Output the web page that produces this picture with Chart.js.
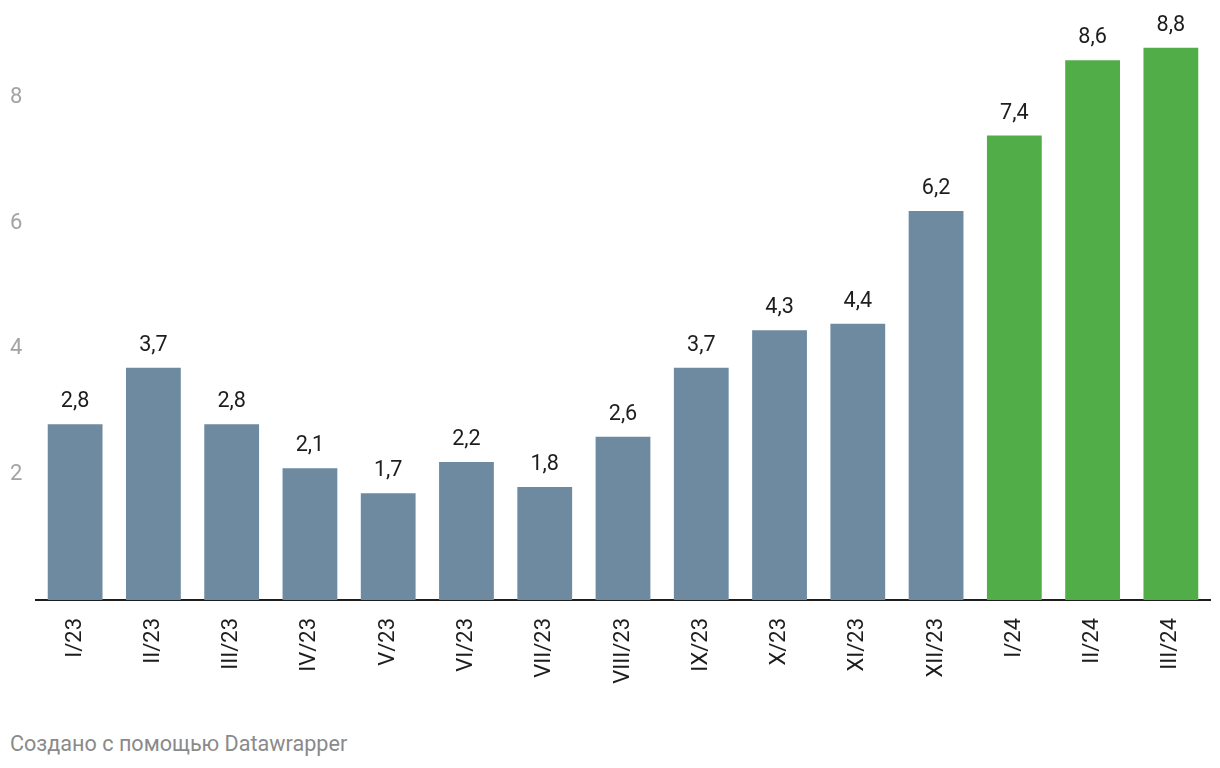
<!DOCTYPE html>
<html>
<head>
<meta charset="utf-8">
<script src="https://cdn.jsdelivr.net/npm/chart.js@4"></script>
<style>
  body { margin: 0; background: #fff; font-family: Roboto, sans-serif; }
  #wrap { position: relative; width: 1220px; height: 720px; }
  #credit { position: absolute; left: 10px; top: 731px; font-size: 21.6px; color: #8a8a8a; }
</style>
</head>
<body>
<div id="wrap"><canvas id="myChart"></canvas></div>
<div id="credit">Создано с помощью Datawrapper</div>
<script>
// data
const months = ['I/23', 'II/23', 'III/23', 'IV/23', 'V/23', 'VI/23', 'VII/23', 'VIII/23',
    'IX/23', 'X/23', 'XI/23', 'XII/23', 'I/24', 'II/24', 'III/24'];
const values = [2.8, 3.7, 2.8, 2.1, 1.7, 2.2, 1.8, 2.6, 3.7, 4.3, 4.4, 6.2, 7.4, 8.6, 8.8];
const yTicks = [2, 4, 6, 8];

const barColors = months.map(m => m.endsWith('/24') ? '#51ad47' : '#6d8aa0');

// value labels above bars
const valueLabels = {
    id: 'valueLabels',
    afterDatasetsDraw(chart) {
        const ctx = chart.ctx;
        const meta = chart.getDatasetMeta(0);
        ctx.save();
        ctx.font = '21.6px Roboto';
        ctx.fillStyle = '#1d1d1d';
        ctx.textAlign = 'center';
        ctx.textBaseline = 'alphabetic';
        meta.data.forEach((bar, i) => {
            ctx.fillText(String(values[i]).replace('.', ','), bar.x, bar.y - 17);
        });
        ctx.restore();
    }
};

Chart.defaults.font.family = 'Roboto';
new Chart(document.getElementById('myChart'), {
    type: 'bar',
    data: {
        labels: months,
        datasets: [{
            data: values,
            backgroundColor: barColors,
            barPercentage: 0.7,
            categoryPercentage: 1
        }]
    },
    options: {
        responsive: true,
        maintainAspectRatio: false,
        animation: false,
        layout: { padding: { top: 8, right: 10, left: 10, bottom: 0 } },
        plugins: {
            legend: { display: false },
            tooltip: { enabled: false }
        },
        scales: {
            x: {
                grid: { display: false },
                border: { display: true, color: '#1d1d1d', width: 2 },
                ticks: {
                    minRotation: 90,
                    maxRotation: 90,
                    padding: 10,
                    color: '#1d1d1d',
                    font: { size: 22 }
                },
                afterFit(scale) { scale.height = 120; }
            },
            y: {
                min: 0,
                max: 9.35,
                grid: { display: false },
                border: { display: false },
                afterBuildTicks(scale) {
                    scale.ticks = yTicks.map(v => ({ value: v }));
                },
                ticks: {
                    crossAlign: 'far',
                    padding: 0,
                    color: '#a3a3a3',
                    font: { size: 22 }
                },
                afterFit(scale) { scale.width = 26; }
            }
        }
    },
    plugins: [valueLabels]
});
</script>
</body>
</html>
